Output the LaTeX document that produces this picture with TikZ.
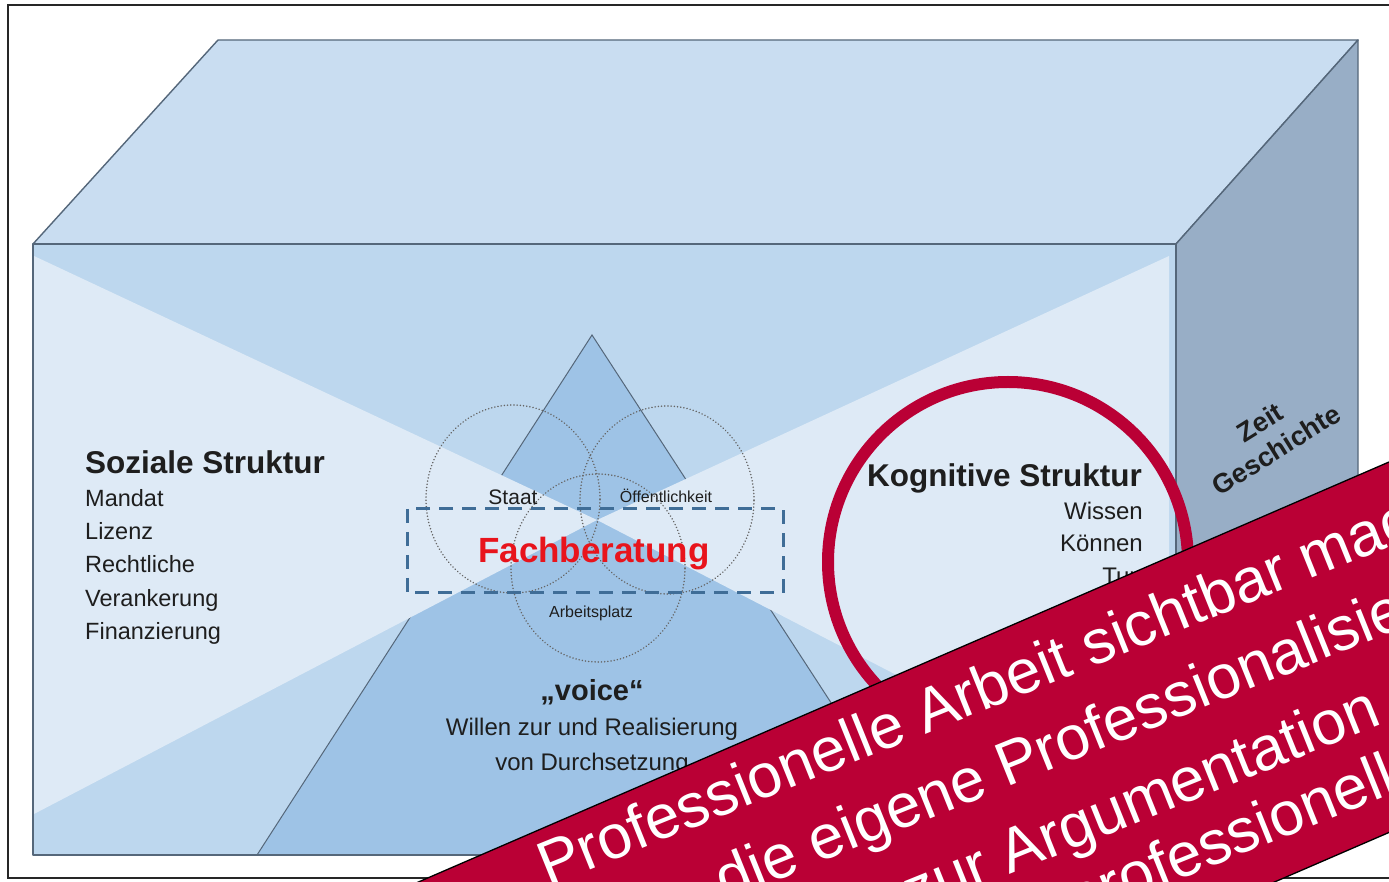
\documentclass[tikz,border=0pt]{standalone}
\usepackage{fontspec}
\setmainfont{Liberation Sans}
\definecolor{topface}{HTML}{C9DDF1}
\definecolor{frontmid}{HTML}{BDD7EE}
\definecolor{frontlight}{HTML}{DEEAF6}
\definecolor{pyr}{HTML}{9EC3E6}
\definecolor{sideface}{HTML}{98AEC6}
\definecolor{edgecol}{HTML}{55677A}
\definecolor{crimson}{HTML}{BA0035}
\definecolor{fbred}{HTML}{E8141C}
\definecolor{dashblue}{HTML}{3F6D97}
\definecolor{txt}{HTML}{1E1E1E}
\begin{document}
\begin{tikzpicture}[x=1pt,y=1pt,
  edgeline/.style={draw=edgecol, line width=1.4pt, line join=round},
  dotcirc/.style={draw=black!60, line width=1.7pt, line cap=round, dash pattern=on 0.01pt off 3.2pt},
  small/.style={font=\fontsize{16}{16}\selectfont, text=txt, inner sep=0pt},
  listtxt/.style={font=\fontsize{23.5}{23.5}\selectfont, text=txt, inner sep=0pt},
  headtxt/.style={font=\fontsize{31.5}{31.5}\selectfont\bfseries, text=txt, inner sep=0pt},
  bannertxt/.style={font=\fontsize{62}{62}\selectfont, text=white, inner sep=0pt, anchor=base west, rotate=22}
]
\useasboundingbox (0,0) rectangle (1389,881);
\clip (0,0) rectangle (1389,881);
\fill[white] (0,0) rectangle (1389,881);
% outer frame
\draw[line width=2pt, draw=black!85] (8,3) rectangle (1400,876);
% top face
\filldraw[fill=topface, edgeline] (33,637) -- (218,841) -- (1358,841) -- (1176,637) -- cycle;
% right face
\filldraw[fill=sideface, edgeline] (1176,637) -- (1358,841) -- (1358,230) -- (1176,26) -- cycle;
% front face
\fill[frontmid] (33,26) rectangle (1176,637);
\filldraw[fill=pyr, draw=edgecol, line width=1pt] (592,546) -- (257,26) -- (930,26) -- cycle;
\fill[frontlight] (34,625) -- (597,361) -- (34,67) -- cycle;
\fill[frontlight] (1169,625) -- (597,361) -- (1169,65) -- cycle;
\draw[edgeline] (33,26) rectangle (1176,637);
% dotted circles
\draw[dotcirc] (513,382) ellipse [x radius=87, y radius=94];
\draw[dotcirc] (667,381) ellipse [x radius=87, y radius=94];
\draw[dotcirc] (598,313) ellipse [x radius=87, y radius=94];
% dashed box
\draw[dashblue, line width=3pt, dash pattern=on 14pt off 9pt] (407,372) rectangle (783,288);
% centre labels
\node[small, font=\fontsize{21}{21}\selectfont, anchor=base] (staat) at (513,376) {Staat};
\node[small, anchor=base] (oeff) at (666,378) {Öffentlichkeit};
\node[small, anchor=base] (arb) at (591,263) {Arbeitsplatz};
\node[inner sep=0pt, anchor=base, text=fbred, font=\fontsize{35}{35}\selectfont\bfseries] (fach) at (594,318) {Fachberatung};
% left text
\node[headtxt, anchor=base west] (soz) at (85,407) {Soziale Struktur};
\node[listtxt, anchor=base west] (l1) at (85,374) {Mandat};
\node[listtxt, anchor=base west] (l2) at (85,341) {Lizenz};
\node[listtxt, anchor=base west] (l3) at (85,308) {Rechtliche};
\node[listtxt, anchor=base west] (l4) at (85,274) {Verankerung};
\node[listtxt, anchor=base west] (l5) at (85,241) {Finanzierung};
% right text
\node[headtxt, anchor=base east] (kog) at (1142,394) {Kognitive Struktur};
\node[listtxt, font=\fontsize{24}{24}\selectfont, anchor=base east] (r1) at (1143,361) {Wissen};
\node[listtxt, font=\fontsize{24}{24}\selectfont, anchor=base east] (r2) at (1143,329) {Können};
\node[listtxt, font=\fontsize{24}{24}\selectfont, anchor=base east] (r3) at (1143,296) {Tun};
% voice
\node[inner sep=0pt, anchor=base, text=txt, font=\fontsize{29}{29}\selectfont\bfseries] (voice) at (592,180) {„voice“};
\node[listtxt, font=\fontsize{24}{24}\selectfont, anchor=base] (w1) at (592,146) {Willen zur und Realisierung};
\node[listtxt, font=\fontsize{24}{24}\selectfont, anchor=base] (w2) at (592,111) {von Durchsetzung};
% side face
\node[inner sep=0pt, text=txt, align=center, rotate=32, font=\fontsize{27}{32}\selectfont\bfseries] (zeit) at (1268,445) {Zeit\\Geschichte};
% red circle
\draw[crimson, line width=12pt] (1008,319) circle [radius=180];
% banner
\begin{scope}[shift={(1389,419)}, rotate=23.4]
  \fill[crimson] (-1400,-340) rectangle (400,0);
  \draw[black, line width=1.3pt] (-1400,0) -- (400,0);
  \draw[black, line width=1.3pt] (-1400,-340) -- (400,-340);
\end{scope}
\node[bannertxt] (b1) at (548.0,-5.6) {Professionelle Arbeit sichtbar machen};
\node[bannertxt] (b2) at (725.1,-20.4) {die eigene Professionalisierung};
\node[bannertxt] (b3) at (913.7,-32.6) {zur Argumentation};
\node[bannertxt] (b4) at (1076,-40.4) {professionelle};
\end{tikzpicture}
\end{document}
